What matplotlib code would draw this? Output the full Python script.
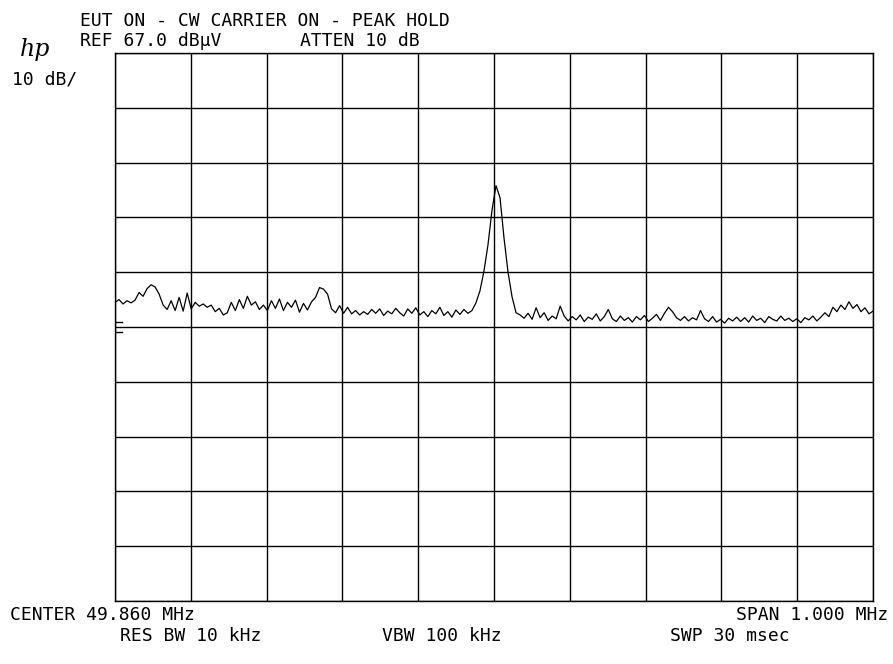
import numpy as np
import matplotlib
matplotlib.use("Agg")
import matplotlib.pyplot as plt

# analyzer settings
center_mhz = 49.860
span_mhz = 1.000
ref_level = 67.0
db_per_div = 10

# peak-hold trace in dBuV, left to right across the span
trace_db = [
    21.5, 22.0, 21.2, 21.8, 21.4, 21.9, 23.3, 22.6, 24.0, 24.7,
    24.3, 23.0, 21.0, 20.2, 21.8, 20.0, 22.4, 19.9, 23.2, 20.3,
    21.5, 20.8, 21.2, 20.6, 21.0, 19.8, 20.4, 19.2, 19.6, 21.5,
    20.0, 22.0, 20.4, 22.6, 21.0, 21.6, 20.2, 21.0, 20.0, 21.8,
    20.4, 22.1, 20.0, 21.5, 20.6, 21.9, 19.7, 21.3, 20.1, 21.6,
    22.4, 24.2, 23.9, 23.0, 20.3, 19.6, 20.9, 19.5, 20.6, 19.4,
    20.0, 19.2, 19.8, 19.3, 20.2, 19.5, 20.3, 19.1, 19.9, 19.4,
    20.4, 19.6, 19.0, 20.3, 19.5, 20.5, 19.2, 19.8, 18.9, 20.0,
    19.4, 20.6, 19.1, 19.8, 18.8, 20.1, 19.3, 20.2, 19.5, 20.0,
    21.4, 23.6, 27.2, 32.0, 38.3, 42.8, 40.6, 33.2, 27.0, 22.5,
    19.6, 19.2, 18.6, 19.5, 18.4, 20.5, 18.7, 19.6, 18.2, 19.0,
    18.5, 20.8, 19.0, 18.1, 18.9, 18.3, 19.2, 18.0, 18.8, 18.4,
    19.4, 18.1, 18.9, 20.2, 18.5, 18.0, 19.0, 18.2, 18.7, 17.9,
    18.9, 18.3, 19.1, 18.0, 18.6, 19.3, 18.2, 19.5, 20.6, 19.8,
    18.7, 18.2, 18.9, 18.1, 18.7, 18.3, 20.0, 18.5, 18.0, 18.9,
    17.9, 18.4, 17.7, 18.6, 18.1, 18.8, 18.0, 18.7, 17.9, 19.0,
    18.2, 18.6, 17.8, 18.9, 18.4, 18.1, 19.0, 18.2, 18.6, 18.0,
    18.5, 17.8, 18.7, 18.3, 19.0, 18.1, 18.8, 19.6, 18.9, 20.6,
    19.8, 21.0, 20.2, 21.6, 20.4, 21.1, 19.8, 20.5, 19.4, 19.9,
]

title_line = "EUT ON - CW CARRIER ON - PEAK HOLD"
ref_text = "REF 67.0 dB\u03bcV"
atten_text = "ATTEN 10 dB"
scale_text = "10 dB/"
center_text = "CENTER 49.860 MHz"
span_text = "SPAN 1.000 MHz"
rbw_text = "RES BW 10 kHz"
vbw_text = "VBW 100 kHz"
swp_text = "SWP 30 msec"

W, H = 893, 664
fig = plt.figure(figsize=(W / 100, H / 100), dpi=100)
fig.patch.set_facecolor("white")

# graticule box in pixel coords: x 115..873, y 53..601
ax = fig.add_axes([115 / W, 1 - 601 / H, 758 / W, 548 / H])

f_start = center_mhz - span_mhz / 2
f_stop = center_mhz + span_mhz / 2
freqs = np.linspace(f_start, f_stop, len(trace_db))

ax.plot(freqs, trace_db, color="black", lw=0.9)

ax.set_xlim(f_start, f_stop)
ax.set_ylim(ref_level - 10 * db_per_div, ref_level)
ax.set_xticks(np.linspace(f_start, f_stop, 11))
ax.set_yticks(np.linspace(ref_level - 10 * db_per_div, ref_level, 11))
ax.grid(True, color="black", lw=1.0)
ax.tick_params(length=0, labelbottom=False, labelleft=False)
for s in ax.spines.values():
    s.set_color("black")
    s.set_linewidth(1.0)

# small reference marks on the left edge
ax.plot([0, 0.009], [0.491, 0.491], transform=ax.transAxes, color="black", lw=1)
ax.plot([0, 0.009], [0.509, 0.509], transform=ax.transAxes, color="black", lw=1)


def put(x, y, s, ha="left", **kw):
    # x, y in pixels from top-left, y = text baseline
    fig.text(x / W, 1 - y / H, s, ha=ha, va="baseline",
             family="DejaVu Sans Mono", fontsize=13, color="black", **kw)


put(80, 26, title_line)
put(80, 46, ref_text)
put(300, 46, atten_text)
put(12, 84, scale_text)
put(10, 620, center_text)
put(888, 620, span_text, ha="right")
put(120, 641, rbw_text)
put(382, 641, vbw_text)
put(670, 641, swp_text)

fig.text(20 / W, 1 - 56 / H, "hp", ha="left", va="baseline", family="DejaVu Serif",
         fontsize=17, style="italic", color="black")

fig.savefig("out.png", dpi=100, facecolor="white")
